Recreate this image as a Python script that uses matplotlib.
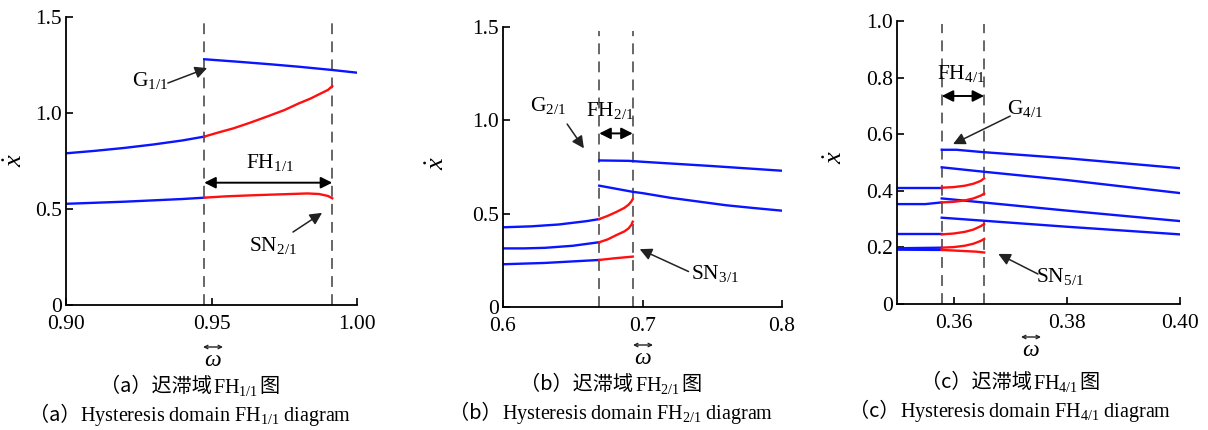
import numpy as np
import matplotlib
matplotlib.use('Agg')
import matplotlib.pyplot as plt
from matplotlib.patches import FancyArrowPatch
from matplotlib.offsetbox import TextArea, HPacker, AnnotationBbox

plt.rcParams['font.family'] = ['Liberation Serif', 'Noto Sans CJK SC']
plt.rcParams['mathtext.fontset'] = 'custom'
plt.rcParams['mathtext.rm'] = 'Liberation Serif'
plt.rcParams['mathtext.it'] = 'Liberation Serif:italic'
plt.rcParams['mathtext.default'] = 'regular'

BLUE = '#0a14ff'
RED = '#ff1010'
CJK = 'Noto Sans CJK SC'

"""
DATA (read off the picture)
"""

# (a) FH 1/1
a_fh = [0.9475, 0.9915]
a_g_x = [0.9475, 0.96, 0.97, 0.98, 0.9915, 1.00]
a_g_y = [1.28, 1.266, 1.254, 1.241, 1.224, 1.21]
a_mid_blue_x = [0.90, 0.91, 0.92, 0.93, 0.94, 0.9475]
a_mid_blue_y = [0.79, 0.803, 0.818, 0.836, 0.857, 0.877]
a_mid_red_x = [0.9475, 0.952, 0.9575, 0.963, 0.969, 0.975, 0.980, 0.984, 0.9873, 0.990, 0.9915]
a_mid_red_y = [0.877, 0.897, 0.92, 0.948, 0.981, 1.015, 1.05, 1.075, 1.10, 1.12, 1.14]
a_low_blue_x = [0.90, 0.92, 0.94, 0.9475]
a_low_blue_y = [0.527, 0.538, 0.552, 0.559]
a_low_red_x = [0.9475, 0.955, 0.965, 0.975, 0.983, 0.987, 0.990, 0.9915]
a_low_red_y = [0.559, 0.566, 0.572, 0.577, 0.581, 0.578, 0.568, 0.556]

# (b) FH 2/1
b_fh = [0.669, 0.693]
b_top_x = [0.669, 0.69, 0.70, 0.75, 0.80]
b_top_y = [0.785, 0.783, 0.778, 0.755, 0.73]
b_sec_x = [0.669, 0.693, 0.70, 0.72, 0.74, 0.76, 0.78, 0.80]
b_sec_y = [0.65, 0.617, 0.61, 0.585, 0.565, 0.545, 0.53, 0.516]
b_3_blue_x = [0.60, 0.62, 0.64, 0.66, 0.669]
b_3_blue_y = [0.427, 0.432, 0.442, 0.46, 0.471]
b_3_red_x = [0.669, 0.675, 0.6815, 0.687, 0.690, 0.692, 0.693]
b_3_red_y = [0.471, 0.488, 0.51, 0.531, 0.548, 0.565, 0.578]
b_4_blue_x = [0.60, 0.615, 0.63, 0.65, 0.669]
b_4_blue_y = [0.314, 0.314, 0.317, 0.328, 0.347]
b_4_red_x = [0.669, 0.675, 0.6815, 0.687, 0.690, 0.692, 0.693]
b_4_red_y = [0.347, 0.362, 0.386, 0.405, 0.421, 0.44, 0.457]
b_5_blue_x = [0.60, 0.63, 0.669]
b_5_blue_y = [0.229, 0.236, 0.252]
b_5_red_x = [0.669, 0.68, 0.693]
b_5_red_y = [0.252, 0.261, 0.27]

# (c) FH 4/1
c_fh = [0.3579, 0.3654]
c_right_x = [[0.3579, 0.3605, 0.365, 0.38, 0.40],
             [0.3579, 0.365, 0.38, 0.40],
             [0.3579, 0.36, 0.38, 0.40],
             [0.3579, 0.38, 0.40]]
c_right_y = [[0.545, 0.545, 0.537, 0.515, 0.48],
             [0.483, 0.468, 0.438, 0.392],
             [0.373, 0.369, 0.33, 0.293],
             [0.305, 0.273, 0.246]]
c_left_x = [[0.35, 0.3579], [0.35, 0.355, 0.3579], [0.35, 0.3579],
            [0.35, 0.3579], [0.35, 0.3579]]
c_left_y = [[0.411, 0.411], [0.353, 0.353, 0.359], [0.246, 0.246],
            [0.197, 0.199], [0.192, 0.191]]
c_red_x = [[0.3579, 0.360, 0.362, 0.3635, 0.3648, 0.3654],
           [0.3579, 0.360, 0.362, 0.3635, 0.3648, 0.3654],
           [0.3579, 0.360, 0.362, 0.3635, 0.3648, 0.3654],
           [0.3579, 0.360, 0.362, 0.3635, 0.3648, 0.3654],
           [0.3579, 0.360, 0.362, 0.364, 0.3654]]
c_red_y = [[0.411, 0.413, 0.418, 0.425, 0.435, 0.444],
           [0.359, 0.361, 0.366, 0.373, 0.383, 0.39],
           [0.246, 0.249, 0.255, 0.263, 0.275, 0.283],
           [0.199, 0.201, 0.206, 0.213, 0.223, 0.23],
           [0.191, 0.189, 0.187, 0.185, 0.182]]


def style_axes(ax, xlim, ylim, xticks, xlabels, yticks, ylabels, ylab_pos):
    ax.set_xlim(xlim)
    ax.set_ylim(ylim)
    ax.spines['top'].set_visible(False)
    ax.spines['right'].set_visible(False)
    for s in ['left', 'bottom']:
        ax.spines[s].set_linewidth(1.3)
    ax.set_xticks(xticks, xlabels)
    ax.set_yticks(yticks, ylabels)
    ax.tick_params(direction='in', length=5, width=1.2, labelsize=15.5)
    ax.tick_params(axis='x', pad=7)
    ax.tick_params(axis='y', pad=3)
    ax.set_ylabel(r'$\dot{\mathit{x}}$', fontsize=19, rotation=90)
    ax.yaxis.set_label_coords(*ylab_pos)


def vdash(ax, xs, ymax):
    for x in xs:
        ax.axvline(x, ymax=ymax, color='#5a5a5a', lw=1.3, dashes=(6, 4))


def double_arrow(ax, x0, x1, y):
    ax.annotate('', xy=(x1, y), xytext=(x0, y),
                arrowprops=dict(arrowstyle='<|-|>', color='black', lw=1.4,
                                mutation_scale=17, shrinkA=0, shrinkB=0))


def pointer(ax, text, txy, tail, tip, ha='center'):
    ax.text(txy[0], txy[1], text, fontsize=15.5, ha=ha, va='center')
    ax.annotate('', xy=tip, xytext=tail,
                arrowprops=dict(arrowstyle='-|>', color='#222222', lw=1.1,
                                mutation_scale=18, shrinkA=0, shrinkB=0))


def caption(fig, x, y, cn_pre, cn_sub, en_pre, en_rest):
    size = 14.5
    row1 = HPacker(children=[TextArea(cn_pre, textprops=dict(family=CJK, fontsize=size)),
                             TextArea('FH$_{' + cn_sub + '}$', textprops=dict(family='Liberation Serif', fontsize=size)),
                             TextArea('图', textprops=dict(family=CJK, fontsize=size))],
                   align='baseline', pad=0, sep=1)
    row2 = HPacker(children=[TextArea(en_pre, textprops=dict(family=CJK, fontsize=size)),
                             TextArea(en_rest, textprops=dict(family='Liberation Serif', fontsize=size))],
                   align='baseline', pad=0, sep=0)
    fig.add_artist(AnnotationBbox(row1, (x, y[0]), xycoords='figure pixels', frameon=False,
                                  box_alignment=(0.5, 0.5), pad=0))
    fig.add_artist(AnnotationBbox(row2, (x, y[1]), xycoords='figure pixels', frameon=False,
                                  box_alignment=(0.5, 0.5), pad=0))


def omega_label(fig, x, y_arrow, y_omega):
    # left-right arrow drawn over the omega
    fig.add_artist(FancyArrowPatch((x - 10, H - y_arrow), (x + 10, H - y_arrow), transform=None,
                                   arrowstyle='<->', mutation_scale=6, lw=1.0, color='#222222',
                                   shrinkA=0, shrinkB=0))
    fig.text(x / 1208, 1 - y_omega / H, r'$\mathit{\omega}$', fontsize=17,
             ha='center', va='center')


fig = plt.figure(figsize=(12.08, 4.30), dpi=100)
H = 430

axa = fig.add_axes([66 / 1208, 1 - 305 / H, 291 / 1208, 288 / H])
axb = fig.add_axes([503 / 1208, 1 - 307 / H, 279 / 1208, 280 / H])
axc = fig.add_axes([897 / 1208, 1 - 304 / H, 283 / 1208, 283 / H])

# (a)
vdash(axa, a_fh, 0.985)
axa.plot(a_g_x, a_g_y, color=BLUE, lw=1.7)
axa.plot(a_mid_blue_x, a_mid_blue_y, color=BLUE, lw=1.7)
axa.plot(a_mid_red_x, a_mid_red_y, color=RED, lw=1.7)
axa.plot(a_low_blue_x, a_low_blue_y, color=BLUE, lw=1.7)
axa.plot(a_low_red_x, a_low_red_y, color=RED, lw=1.7)
style_axes(axa, (0.90, 1.00), (0, 1.5), [0.90, 0.95, 1.00], ['0.90', '0.95', '1.00'],
           [0, 0.5, 1.0, 1.5], ['0', '0.5', '1.0', '1.5'], (-0.134, 0.503))
double_arrow(axa, a_fh[0], a_fh[1], 0.637)
axa.text(0.970, 0.74, 'FH$_{1/1}$', fontsize=15.5, ha='center', va='center')
pointer(axa, 'G$_{1/1}$', (0.929, 1.17), (0.935, 1.156), (0.9485, 1.234))
pointer(axa, 'SN$_{2/1}$', (0.971, 0.31), (0.978, 0.38), (0.988, 0.48))

# (b)
vdash(axb, b_fh, 0.985)
axb.plot(b_top_x, b_top_y, color=BLUE, lw=1.7)
axb.plot(b_sec_x, b_sec_y, color=BLUE, lw=1.7)
axb.plot(b_3_blue_x, b_3_blue_y, color=BLUE, lw=1.7)
axb.plot(b_3_red_x, b_3_red_y, color=RED, lw=1.7)
axb.plot(b_4_blue_x, b_4_blue_y, color=BLUE, lw=1.7)
axb.plot(b_4_red_x, b_4_red_y, color=RED, lw=1.7)
axb.plot(b_5_blue_x, b_5_blue_y, color=BLUE, lw=1.7)
axb.plot(b_5_red_x, b_5_red_y, color=RED, lw=1.7)
style_axes(axb, (0.6, 0.8), (0, 1.5), [0.6, 0.7, 0.8], ['0.6', '0.7', '0.8'],
           [0, 0.5, 1.0, 1.5], ['0', '0.5', '1.0', '1.5'], (-0.194, 0.514))
double_arrow(axb, b_fh[0], b_fh[1], 0.93)
axb.text(0.677, 1.055, 'FH$_{2/1}$', fontsize=15.5, ha='center', va='center')
pointer(axb, 'G$_{2/1}$', (0.632, 1.08), (0.646, 0.98), (0.658, 0.85))
pointer(axb, 'SN$_{3/1}$', (0.752, 0.18), (0.733, 0.19), (0.698, 0.31))

# (c)
vdash(axc, c_fh, 0.99)
for xs, ys in zip(c_right_x, c_right_y):
    axc.plot(xs, ys, color=BLUE, lw=1.7)
for xs, ys in zip(c_left_x, c_left_y):
    axc.plot(xs, ys, color=BLUE, lw=1.7)
for xs, ys in zip(c_red_x, c_red_y):
    axc.plot(xs, ys, color=RED, lw=1.7)
style_axes(axc, (0.35, 0.40), (0, 1.0), [0.36, 0.38, 0.40], ['0.36', '0.38', '0.40'],
           [0, 0.2, 0.4, 0.6, 0.8, 1.0], ['0', '0.2', '0.4', '0.6', '0.8', '1.0'], (-0.177, 0.52))
double_arrow(axc, c_fh[0], c_fh[1], 0.735)
axc.text(0.3614, 0.816, 'FH$_{4/1}$', fontsize=15.5, ha='center', va='center')
pointer(axc, 'G$_{4/1}$', (0.3726, 0.69), (0.370, 0.664), (0.3599, 0.565))
pointer(axc, 'SN$_{5/1}$', (0.3788, 0.097), (0.3749, 0.106), (0.3679, 0.177))

# omega labels (arrow over omega)
omega_label(fig, 213, 347, 361)
omega_label(fig, 643, 345, 359)
omega_label(fig, 1031, 337, 351)

caption(fig, 190, (H - 387, H - 417), '（a）迟滞域', '1/1', '（a）', 'Hysteresis domain FH$_{1/1}$ diagram')
caption(fig, 611, (H - 385, H - 415), '（b）迟滞域', '2/1', '（b）', 'Hysteresis domain FH$_{2/1}$ diagram')
caption(fig, 1010, (H - 383, H - 413), '（c）迟滞域', '4/1', '（c）', 'Hysteresis domain FH$_{4/1}$ diagram')

fig.savefig('out.png', dpi=100)
